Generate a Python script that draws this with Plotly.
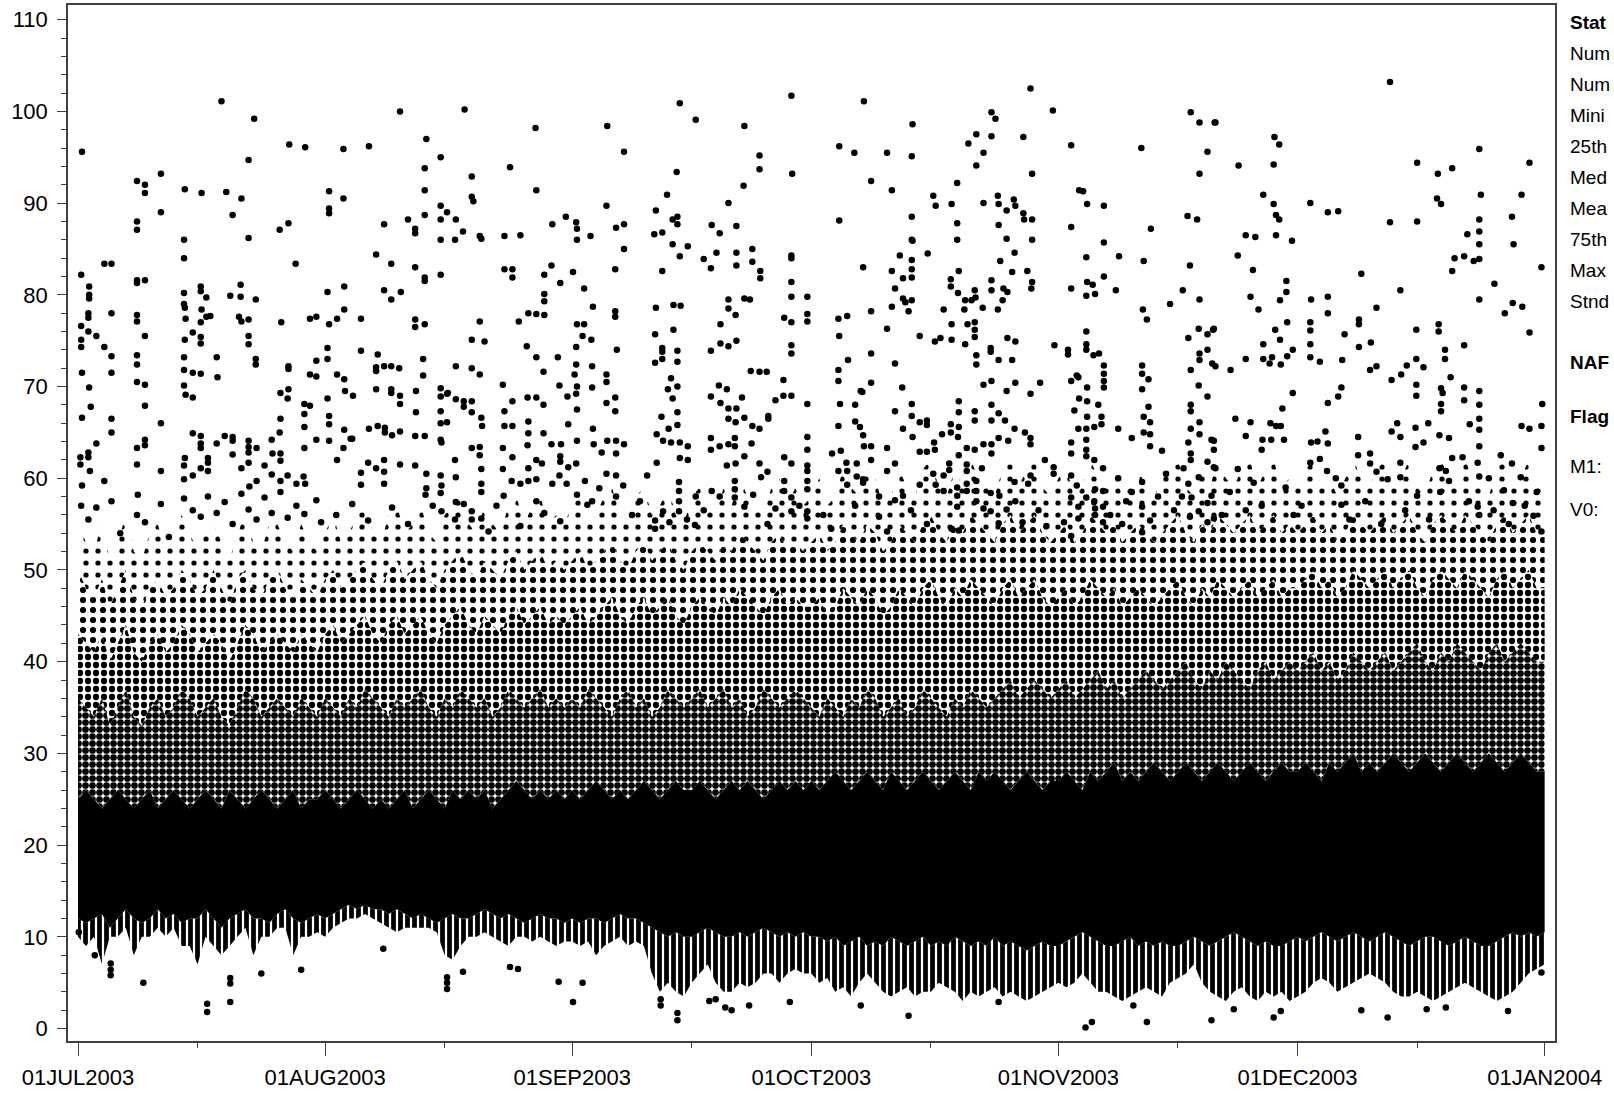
import pandas as pd
import plotly.graph_objects as go

# hourly concentrations, Jul 2003 - Jan 2004; sparse points
# as (day offset from 01JUL2003, value). The dense cloud is kept as daily envelopes.
START = pd.Timestamp("2003-07-01")

tick_dates = ["2003-07-01", "2003-08-01", "2003-09-01", "2003-10-01",
              "2003-11-01", "2003-12-01", "2004-01-01"]
tick_labels = ["01JUL2003", "01AUG2003", "01SEP2003", "01OCT2003",
               "01NOV2003", "01DEC2003", "01JAN2004"]
minor_dates = ["2003-07-16", "2003-08-16", "2003-09-16", "2003-10-16",
               "2003-11-16", "2003-12-16"]

# daily envelopes of the dense part of the cloud (one value per day, 01JUL2003..01JAN2004)
whisk_lo = [10, 9, 10, 7, 10, 10, 11, 8, 10, 10, 11, 10, 11, 9, 9, 7, 10, 9, 8, 9, 10, 11, 8, 10, 10, 11, 11, 8, 10, 10, 10.5,
            10, 11, 11.5, 12, 12, 12.5, 12, 11.5, 11, 10.5, 11, 11, 11, 11, 10.5, 8, 7.5, 9, 10, 10, 10.5, 10, 9.5, 9, 10, 10, 9.5, 10, 9.5, 9, 9.5,
            9.5, 9, 9.5, 8, 9, 9.5, 10, 9, 9.5, 9, 6, 4, 5, 4, 3.5, 5, 6, 7, 5, 4, 4, 5, 4.5, 5, 6, 6, 5, 6, 6.5, 6,
            6, 5, 5.5, 4, 4.5, 3.5, 5, 6, 5, 4, 3.5, 4, 4.5, 3.5, 4, 4, 5, 4.5, 4, 3, 4, 3.5, 4, 4.5, 3.5, 4, 3.5, 3, 3.5, 4, 4.5,
            5, 4.5, 5, 6, 5, 4, 4, 3.5, 3, 3.5, 4, 4.5, 4, 3.5, 5, 5.5, 6, 7, 5, 4, 3.5, 3, 4, 4.5, 3.5, 3, 4, 3.5, 4, 3,
            3.5, 4, 5, 5.5, 5, 4, 4.5, 5, 5.5, 6, 5.5, 5, 4, 3.5, 3.5, 4, 3.5, 3, 3.5, 4, 4.5, 5, 4.5, 4, 3.5, 3, 3.5, 4, 5, 6, 6.5,
            7]
core_lo = [12, 11.5, 12, 12.5, 11, 12, 13, 12, 11.5, 12, 13, 12, 12.5, 11.5, 12, 12, 13, 12, 11, 12, 12.5, 13, 12, 12, 11.5, 12.5, 13, 12, 11.5, 12, 12.5,
           12, 12.5, 13, 13.5, 13, 13.5, 13, 13, 12.5, 13, 12.5, 12, 12.5, 12, 11.5, 12, 12.5, 12, 12, 12.5, 13, 12.5, 12, 12.5, 12, 11.5, 12, 12.5, 12, 12, 11.5,
           12, 11.5, 12, 12, 11.5, 12, 12.5, 12, 12, 11.5, 11, 10.5, 10, 10.5, 10, 10, 10.5, 11, 10.5, 10, 10, 10.5, 10, 10.5, 11, 10.5, 10, 10.5, 10, 10.5,
           10, 10, 9.5, 10, 9, 9.5, 10, 9, 9.5, 9, 10, 9.5, 9, 9.5, 10, 9, 9.5, 9, 10, 9.5, 9, 9.5, 9, 10, 9, 9.5, 9, 8.5, 9, 9.5, 9,
           9, 9.5, 10, 10.5, 10, 9.5, 9, 9, 9.5, 10, 9, 9.5, 9, 9.5, 9, 9, 9.5, 10, 9.5, 9, 9.5, 10, 10.5, 10, 9.5, 9, 9.5, 9, 9, 9.5,
           10, 9.5, 10, 10.5, 10, 9.5, 10, 10.5, 10, 9.5, 10, 10.5, 10, 9.5, 9, 9.5, 10, 10, 9.5, 9, 9.5, 10, 9.5, 9, 9, 9.5, 10, 10.5, 10, 10.5, 10,
           10.5]
core_hi = [25, 26, 25, 24, 25, 26, 25, 24, 25, 26, 24, 25, 26, 25, 24, 25, 26, 25, 24, 26, 25, 24, 25, 26, 25, 24, 25, 26, 24, 25, 25,
           26, 25, 24, 25, 26, 25, 24, 25, 24, 25, 26, 24, 25, 26, 25, 24, 26, 25, 26, 25, 26, 24, 25, 26, 27, 26, 25, 26, 25, 26, 25,
           26, 25, 26, 27, 26, 25, 26, 25, 26, 27, 26, 25, 26, 27, 26, 26, 27, 26, 25, 26, 27, 26, 27, 26, 25, 26, 27, 26, 27, 26,
           27, 26, 27, 28, 27, 26, 27, 28, 27, 26, 28, 27, 26, 27, 28, 27, 26, 27, 28, 27, 26, 28, 27, 28, 27, 26, 27, 28, 27, 26, 27,
           27, 28, 27, 26, 28, 27, 28, 29, 27, 28, 27, 28, 29, 28, 27, 28, 29, 28, 27, 28, 29, 28, 27, 28, 29, 28, 27, 28, 29, 28,
           28, 29, 28, 27, 29, 28, 29, 30, 28, 29, 28, 29, 30, 29, 28, 29, 30, 29, 28, 29, 30, 29, 28, 29, 30, 29, 28, 29, 30, 29, 28,
           28]
dense_hi = [36, 35, 34, 36, 33, 35, 37, 34, 33, 35, 36, 34, 35, 37, 36, 34, 35, 36, 34, 33, 35, 37, 36, 34, 35, 36, 35, 34, 36, 35, 34,
            36, 35, 34, 36, 35, 37, 36, 35, 34, 36, 35, 36, 37, 35, 34, 36, 35, 37, 36, 35, 36, 34, 35, 37, 36, 35, 36, 37, 35, 36, 35,
            36, 35, 37, 36, 35, 34, 36, 37, 35, 36, 34, 35, 37, 36, 35, 36, 37, 35, 36, 37, 35, 36, 34, 35, 37, 36, 35, 36, 37, 36,
            35, 34, 36, 35, 34, 36, 35, 37, 36, 34, 35, 36, 34, 35, 37, 36, 35, 34, 36, 35, 37, 36, 35, 36, 37, 38, 36, 37, 38, 37, 36,
            37, 38, 36, 37, 38, 39, 37, 38, 36, 37, 38, 39, 38, 37, 38, 39, 40, 38, 37, 39, 38, 40, 39, 38, 37, 39, 40, 38, 39, 40,
            39, 40, 41, 39, 40, 38, 39, 41, 40, 39, 40, 41, 39, 40, 41, 42, 40, 39, 41, 40, 42, 41, 40, 39, 41, 42, 40, 41, 42, 41, 40,
            40]
mid_hi = [43, 42, 41, 43, 40, 42, 44, 41, 40, 42, 43, 41, 42, 44, 43, 41, 42, 43, 42, 40, 42, 44, 43, 41, 42, 43, 42, 41, 43, 42, 41,
          43, 44, 42, 43, 44, 45, 43, 42, 44, 45, 43, 44, 45, 43, 42, 44, 45, 46, 44, 43, 45, 44, 43, 45, 46, 44, 45, 46, 44, 45, 44,
          45, 46, 44, 45, 46, 47, 45, 44, 46, 47, 45, 46, 47, 45, 44, 46, 47, 46, 45, 47, 46, 48, 47, 46, 45, 47, 48, 46, 47, 46,
          46, 47, 45, 46, 48, 47, 46, 48, 47, 45, 46, 48, 47, 46, 48, 49, 47, 46, 48, 47, 49, 48, 47, 46, 48, 49, 47, 48, 49, 47, 46,
          47, 48, 46, 47, 49, 48, 47, 48, 46, 47, 48, 47, 46, 47, 48, 49, 47, 46, 48, 47, 49, 48, 47, 48, 49, 47, 48, 49, 47, 48,
          48, 49, 50, 48, 49, 47, 48, 50, 49, 48, 49, 50, 48, 49, 50, 48, 47, 49, 50, 49, 48, 50, 49, 48, 47, 49, 50, 48, 49, 50, 48,
          48]
light_hi = [50, 48, 47, 49, 46, 48, 50, 47, 46, 48, 49, 47, 48, 50, 49, 47, 48, 50, 48, 46, 49, 50, 48, 47, 49, 50, 48, 47, 49, 48, 47,
            49, 50, 48, 49, 50, 51, 49, 48, 50, 51, 49, 50, 51, 49, 48, 50, 51, 52, 50, 49, 51, 50, 49, 51, 52, 50, 51, 52, 50, 51, 50,
            51, 52, 50, 51, 52, 53, 51, 50, 52, 53, 51, 52, 53, 51, 50, 52, 53, 52, 51, 53, 52, 54, 53, 52, 51, 53, 54, 52, 53, 52,
            53, 54, 52, 53, 55, 54, 53, 55, 54, 52, 53, 55, 54, 53, 55, 56, 54, 53, 55, 54, 56, 55, 54, 53, 55, 56, 54, 55, 56, 54, 53,
            54, 55, 53, 54, 56, 55, 54, 55, 53, 54, 55, 54, 53, 54, 55, 56, 54, 53, 55, 54, 56, 55, 54, 55, 56, 54, 55, 56, 54, 55,
            54, 55, 56, 54, 55, 53, 54, 56, 55, 54, 55, 56, 54, 55, 56, 54, 53, 55, 56, 55, 54, 56, 55, 54, 53, 55, 56, 54, 55, 56, 54,
            54]
faint_hi = [55, 53, 52, 55, 51, 53, 56, 52, 51, 54, 55, 52, 53, 56, 54, 52, 54, 55, 53, 51, 54, 56, 53, 52, 55, 55, 53, 52, 55, 53, 52,
            54, 56, 53, 54, 56, 57, 54, 53, 56, 57, 54, 55, 57, 54, 53, 56, 57, 58, 55, 54, 57, 55, 54, 57, 58, 55, 57, 58, 55, 56, 55,
            57, 58, 55, 56, 58, 59, 56, 55, 58, 59, 56, 57, 59, 56, 55, 58, 59, 57, 56, 59, 57, 60, 58, 57, 56, 59, 60, 57, 59, 57,
            58, 60, 57, 58, 61, 59, 58, 61, 60, 57, 58, 61, 59, 58, 61, 62, 59, 58, 61, 59, 62, 60, 59, 58, 61, 62, 59, 61, 62, 59, 58,
            60, 61, 58, 59, 62, 60, 59, 61, 58, 59, 61, 59, 58, 60, 61, 62, 59, 58, 61, 59, 62, 60, 59, 61, 62, 59, 61, 62, 59, 60,
            59, 61, 62, 59, 60, 58, 60, 62, 60, 59, 61, 62, 59, 60, 62, 59, 58, 61, 62, 60, 59, 62, 60, 59, 58, 61, 62, 59, 60, 62, 59,
            59]

# sparse points above the cloud
jul_pts = [(0.5, 95.6), (18.0, 101.1), (22.1, 99.2), (26.5, 96.4), (28.5, 96.1), (21.4, 94.7), (10.4, 93.2), (7.4, 92.4),
           (8.4, 92.0), (8.4, 91.1), (13.4, 91.5), (15.5, 91.1), (18.6, 91.2), (20.5, 90.5), (10.4, 89.0), (19.4, 88.7),
           (7.4, 88.0), (7.4, 87.1), (25.3, 87.1), (26.4, 87.8), (13.3, 86.0), (13.3, 84.0), (21.4, 86.2), (3.3, 83.4),
           (4.2, 83.4), (27.3, 83.4), (0.4, 82.2), (7.4, 81.6), (7.4, 81.3), (8.4, 81.6), (1.4, 80.9), (1.4, 80.0),
           (1.4, 79.6), (13.3, 80.2), (13.3, 79.0), (15.4, 80.9), (15.4, 80.4), (16.1, 79.7), (13.5, 77.4), (13.4, 78.6),
           (20.4, 81.1), (20.4, 79.8), (19.1, 79.9), (22.3, 79.5), (4.2, 78.0), (1.3, 78.0), (1.3, 77.5), (7.4, 77.8),
           (7.4, 77.1), (15.5, 78.4), (16.1, 77.6), (16.6, 77.7), (15.4, 77.0), (20.2, 77.6), (20.5, 77.1), (21.4, 77.3),
           (25.5, 77.0), (29.1, 77.4), (29.9, 77.6), (0.4, 76.6), (0.4, 75.1), (0.4, 74.3), (1.3, 76.0), (2.3, 75.5),
           (3.3, 74.3), (4.2, 73.3), (8.4, 75.5), (13.4, 75.1), (14.4, 75.9), (15.4, 75.4), (15.4, 74.7), (21.4, 75.5),
           (21.4, 74.6), (7.4, 73.4), (7.4, 72.4), (8.4, 70.2), (13.3, 73.2), (13.3, 71.8), (14.4, 71.5), (15.4, 71.4),
           (17.4, 73.2), (17.5, 71.0), (22.3, 73.0), (22.3, 72.4), (26.4, 71.9), (26.4, 72.2), (29.9, 71.1), (29.1, 71.3),
           (29.9, 72.8), (25.4, 69.3), (26.4, 69.7), (26.3, 68.7), (28.4, 68.1), (29.1, 67.9), (28.4, 67.0), (28.4, 65.6),
           (0.5, 71.5), (1.4, 69.9), (1.6, 67.8), (0.5, 66.6), (4.2, 71.5), (4.2, 66.5), (4.2, 65.0), (7.4, 70.5),
           (8.4, 67.9), (13.3, 70.1), (13.5, 69.1), (14.4, 68.8), (2.3, 63.8), (1.3, 62.8), (1.3, 62.3), (0.3, 62.3),
           (0.3, 61.5), (1.5, 60.8), (3.3, 59.7), (0.5, 59.2), (8.4, 64.2), (7.4, 63.3), (8.4, 63.6), (7.4, 61.5),
           (7.5, 58.2), (10.4, 66.0), (10.4, 60.8), (13.4, 62.2), (13.3, 61.4), (13.3, 59.9), (14.4, 64.9), (15.4, 64.6),
           (15.4, 63.8), (15.4, 63.3), (15.4, 61.1), (14.4, 60.3), (16.3, 62.2), (16.3, 61.7), (16.3, 60.8), (17.4, 63.8),
           (18.4, 64.6), (19.4, 64.5), (19.4, 64.1), (19.4, 62.6), (20.5, 61.1), (21.4, 64.1), (21.4, 63.4), (21.4, 62.8),
           (21.4, 61.7), (22.4, 63.3), (24.3, 64.2), (25.3, 65.0), (25.4, 66.5), (24.4, 62.7), (25.4, 62.7), (25.4, 61.9),
           (23.4, 61.4), (24.3, 60.4), (25.4, 59.7), (22.4, 59.7), (21.5, 59.1), (28.4, 63.3), (28.3, 60.2), (27.4, 59.4),
           (26.3, 60.3), (28.5, 59.4), (29.9, 64.2), (0.4, 57.0), (1.3, 55.5), (2.3, 56.8), (4.2, 57.5), (5.3, 54.0),
           (7.4, 56.0), (8.4, 55.2), (10.4, 57.2), (11.4, 53.6), (13.3, 57.8), (14.4, 56.5), (15.4, 55.8), (16.3, 58.0),
           (17.4, 56.2), (18.4, 57.4), (19.4, 55.0), (20.5, 58.3), (21.4, 56.6), (22.4, 55.5), (23.4, 57.9), (24.3, 56.2),
           (25.4, 58.5), (26.3, 55.7), (27.4, 57.0), (28.4, 56.1), (29.9, 57.6), (30.5, 55.2)]
aug_pts = [(31.5, 91.3), (33.3, 90.5), (31.5, 89.4), (31.5, 88.9), (43.5, 93.8), (43.5, 91.4), (43.5, 88.7), (45.5, 89.7),
           (45.5, 88.2), (45.5, 86.0), (46.3, 89.0), (41.4, 88.2), (42.3, 87.2), (42.3, 86.7), (40.4, 100.0), (43.7, 97.0),
           (45.5, 95.0), (33.3, 95.9), (36.5, 96.2), (38.4, 87.7), (37.4, 84.4), (39.3, 83.4), (42.3, 83.0), (43.5, 81.9),
           (43.5, 81.5), (45.5, 82.2), (31.3, 80.3), (33.4, 80.9), (40.5, 80.3), (38.4, 80.5), (39.3, 79.5), (32.5, 77.4),
           (33.4, 78.4), (31.5, 76.8), (35.5, 77.4), (42.3, 77.3), (42.3, 76.5), (43.5, 76.8), (31.3, 74.2), (31.3, 73.0),
           (35.5, 73.9), (37.6, 73.5), (43.3, 73.0), (43.3, 71.2), (32.5, 71.3), (33.4, 70.8), (37.4, 72.1), (37.4, 71.7),
           (38.4, 72.2), (39.3, 72.2), (40.3, 72.0), (45.5, 69.8), (45.5, 68.9), (46.3, 69.2), (31.3, 68.7), (31.5, 66.8),
           (31.5, 65.9), (33.5, 69.5), (34.5, 69.0), (33.4, 65.3), (34.4, 64.3), (37.4, 69.7), (39.3, 69.7), (39.3, 69.3),
           (40.4, 69.0), (40.4, 68.1), (42.4, 69.5), (42.4, 67.2), (43.5, 64.6), (45.5, 67.3), (45.5, 66.0), (45.5, 64.2),
           (46.3, 66.1), (31.5, 64.1), (32.5, 62.0), (33.3, 63.3), (34.2, 64.3), (36.5, 65.4), (37.6, 65.7), (38.5, 65.5),
           (38.5, 65.0), (39.4, 64.7), (40.4, 65.1), (42.3, 64.6), (36.4, 61.7), (37.4, 61.1), (38.4, 62.0), (38.4, 60.7),
           (38.4, 59.4), (35.5, 60.6), (35.5, 59.3), (40.4, 61.5), (42.3, 61.4), (43.7, 60.5), (45.5, 60.3), (45.5, 58.4),
           (43.7, 58.9), (43.6, 58.2), (48.5, 100.2), (57.4, 98.2), (49.4, 92.9), (49.4, 90.7), (49.6, 90.2), (54.2, 93.9),
           (57.5, 91.4), (47.4, 88.2), (48.3, 86.9), (47.3, 86.0), (50.4, 86.4), (50.6, 86.1), (53.5, 86.4), (55.5, 86.5),
           (59.5, 87.7), (61.2, 88.5), (53.5, 82.8), (54.5, 82.8), (54.5, 81.9), (59.4, 83.2), (58.5, 82.2), (60.5, 81.3),
           (58.5, 80.1), (58.5, 79.3), (58.5, 77.8), (57.5, 77.9), (56.5, 78.0), (50.4, 77.1), (55.3, 77.1), (49.4, 75.1),
           (51.0, 74.9), (47.4, 72.2), (49.4, 72.0), (50.4, 71.3), (56.3, 74.4), (57.5, 73.2), (60.2, 73.2), (58.4, 71.6),
           (60.4, 70.1), (61.4, 68.9), (46.4, 69.3), (47.4, 68.6), (48.4, 68.4), (48.4, 67.8), (49.4, 68.4), (49.4, 67.2),
           (50.6, 66.6), (50.7, 65.7), (45.6, 63.9), (53.3, 70.2), (54.5, 68.4), (53.5, 67.3), (53.5, 65.7), (54.5, 65.7),
           (56.5, 66.2), (56.5, 64.9), (56.4, 63.6), (57.5, 68.8), (56.4, 68.8), (58.4, 68.0), (58.4, 64.9), (59.4, 63.7),
           (60.6, 63.7), (61.5, 65.9), (47.3, 62.0), (47.4, 60.1), (50.6, 61.0), (50.6, 59.4), (50.6, 58.5), (49.4, 63.3),
           (50.4, 63.4), (50.4, 62.5), (53.3, 63.3), (53.3, 61.0), (54.5, 62.3), (56.5, 61.1), (57.5, 62.0), (58.2, 61.6),
           (60.5, 62.4), (60.5, 61.8), (61.5, 61.2), (45.6, 59.2), (47.4, 57.4), (48.4, 57.2), (49.4, 56.4), (49.4, 55.5),
           (50.6, 55.6), (45.6, 56.4), (47.3, 55.5), (53.4, 58.1), (54.4, 59.7), (55.5, 59.4), (56.5, 59.7), (57.5, 59.9),
           (57.5, 57.5), (59.5, 59.4), (60.4, 60.3), (61.3, 59.4), (32.4, 56.0), (34.4, 57.2), (36.4, 55.4), (39.4, 56.8),
           (41.4, 55.0), (44.5, 57.0), (51.5, 54.2), (52.5, 57.0), (55.5, 54.8), (58.5, 56.2), (60.5, 55.3)]
sep_pts = [(66.4, 98.4), (68.5, 95.6), (75.5, 100.9), (77.5, 99.1), (83.6, 98.4), (89.5, 101.7), (89.6, 93.2), (85.5, 95.2),
           (85.5, 93.7), (83.5, 91.9), (81.6, 90.0), (66.3, 89.7), (75.1, 93.4), (73.9, 90.9), (72.5, 89.2), (62.5, 87.9),
           (62.6, 87.2), (62.6, 86.0), (64.3, 86.4), (67.5, 87.3), (68.5, 87.7), (68.5, 85.0), (72.3, 86.6), (73.3, 86.8),
           (74.6, 88.2), (75.2, 88.5), (75.2, 87.7), (74.6, 85.5), (75.5, 84.2), (76.5, 85.3), (79.5, 87.6), (80.5, 86.7),
           (82.6, 87.5), (80.1, 84.6), (82.6, 84.6), (84.6, 85.0), (84.6, 83.6), (85.6, 82.6), (85.6, 81.8), (82.6, 83.2),
           (78.5, 83.9), (79.4, 82.9), (89.5, 84.3), (89.5, 84.0), (89.5, 81.4), (89.5, 79.8), (91.5, 79.8), (91.5, 77.9),
           (91.5, 77.1), (88.6, 77.5), (89.5, 77.0), (89.5, 74.5), (89.5, 73.6), (62.1, 82.5), (63.5, 80.7), (67.4, 82.8),
           (73.3, 82.6), (64.6, 78.7), (67.4, 78.2), (67.4, 77.6), (72.5, 78.6), (74.7, 78.9), (75.6, 78.8), (81.6, 79.5),
           (81.6, 78.5), (82.5, 77.8), (83.6, 79.6), (84.3, 79.5), (62.6, 76.8), (63.5, 76.8), (63.3, 75.5), (64.4, 75.1),
           (62.5, 74.3), (72.4, 75.7), (73.3, 74.2), (73.3, 73.8), (73.3, 73.0), (72.4, 72.6), (75.2, 73.9), (75.2, 72.7),
           (74.7, 76.2), (67.6, 74.0), (79.4, 73.9), (80.6, 74.7), (81.6, 74.4), (82.6, 75.0), (80.6, 76.8), (84.4, 71.7),
           (85.5, 71.6), (86.4, 71.6), (88.5, 70.7), (88.5, 69.0), (89.5, 69.0), (87.5, 68.5), (91.5, 68.1), (62.5, 72.4),
           (64.5, 72.2), (62.3, 71.3), (62.6, 70.0), (62.5, 69.2), (64.5, 69.9), (62.6, 67.5), (66.3, 71.3), (66.3, 70.5),
           (66.3, 68.2), (67.4, 68.8), (67.4, 67.3), (74.4, 70.9), (74.0, 69.7), (75.2, 70.0), (74.6, 68.7), (73.2, 66.7),
           (74.1, 65.4), (75.2, 65.8), (75.2, 67.2), (79.4, 68.9), (80.4, 70.1), (81.4, 69.7), (80.6, 68.2), (81.6, 67.6),
           (82.6, 67.6), (81.6, 66.5), (82.5, 66.1), (83.6, 66.6), (83.3, 68.8), (84.6, 65.7), (85.5, 65.4), (86.6, 66.8),
           (86.6, 66.5), (62.6, 64.1), (64.6, 65.4), (64.7, 63.7), (65.7, 62.8), (66.4, 64.1), (67.5, 64.1), (68.5, 63.7),
           (67.5, 62.7), (62.5, 61.6), (71.4, 60.3), (72.6, 61.7), (73.4, 64.1), (74.4, 63.9), (75.5, 63.9), (76.5, 63.5),
           (76.5, 62.0), (75.5, 62.2), (72.6, 64.8), (79.4, 64.4), (79.4, 63.1), (80.5, 63.5), (81.6, 63.7), (82.4, 64.4),
           (82.4, 63.5), (83.6, 62.4), (82.5, 61.6), (81.4, 61.4), (84.5, 63.8), (85.5, 61.6), (86.5, 60.7), (88.6, 62.3),
           (89.5, 61.6), (91.5, 64.5), (91.5, 63.1), (91.5, 61.4), (91.5, 60.8), (91.5, 59.7), (91.5, 58.8), (62.6, 58.2),
           (63.6, 59.7), (63.9, 57.1), (64.5, 57.5), (65.4, 58.9), (66.3, 60.5), (67.5, 60.3), (68.4, 59.2), (67.5, 58.0),
           (75.4, 59.6), (75.4, 58.6), (75.4, 57.5), (75.4, 56.4), (73.4, 56.4), (72.4, 55.4), (72.4, 54.5), (74.2, 55.2),
           (76.4, 55.5), (77.4, 54.9), (79.5, 58.6), (80.5, 58.0), (82.4, 59.7), (82.4, 58.8), (82.4, 57.9), (83.6, 56.9),
           (84.7, 58.2), (85.7, 60.1), (88.6, 59.7), (88.6, 58.6), (89.5, 57.9), (87.5, 56.7), (89.5, 56.4), (91.5, 56.4),
           (91.5, 55.6), (69.5, 56.0), (70.5, 57.5), (77.5, 58.0), (78.5, 56.5), (86.5, 55.0), (90.5, 57.0)]
oct_pts = [(98.6, 101.1), (119.5, 102.5), (122.3, 100.1), (104.7, 98.6), (114.6, 99.9), (115.1, 99.2), (114.6, 97.3),
           (112.7, 97.5), (111.7, 96.5), (113.6, 95.5), (112.7, 94.1), (118.6, 97.2), (95.5, 96.2), (97.4, 95.5), (101.5, 95.5),
           (104.6, 95.1), (99.5, 92.4), (102.1, 91.4), (110.3, 92.2), (119.7, 93.2), (107.3, 90.8), (107.6, 89.7), (109.6, 89.9),
           (113.6, 90.0), (115.4, 90.8), (115.5, 89.9), (116.5, 89.2), (117.4, 90.4), (117.6, 89.7), (118.6, 88.9), (118.7, 88.2),
           (119.7, 88.2), (95.5, 88.1), (104.6, 88.5), (104.6, 86.0), (104.7, 85.9), (110.3, 87.8), (110.3, 86.0), (115.5, 87.6),
           (116.5, 86.1), (119.7, 86.0), (117.5, 84.6), (115.7, 83.7), (103.1, 84.3), (106.6, 84.5), (104.6, 83.8), (104.6, 82.8),
           (104.6, 81.9), (98.5, 83.0), (102.1, 82.6), (103.5, 81.8), (102.5, 80.7), (103.5, 79.6), (103.8, 79.2), (102.1, 78.7),
           (104.2, 78.2), (104.6, 79.4), (110.5, 82.6), (109.5, 81.7), (109.5, 80.9), (110.4, 80.2), (111.3, 79.4), (112.1, 79.4),
           (112.6, 79.7), (112.5, 80.5), (108.6, 78.4), (111.2, 78.4), (113.5, 78.6), (114.6, 81.6), (114.6, 80.5), (116.1, 80.7),
           (116.6, 80.3), (116.0, 79.4), (115.4, 78.4), (117.2, 82.5), (119.1, 82.6), (119.7, 81.4), (119.6, 80.7),
           (95.4, 77.4), (96.5, 77.7), (95.5, 75.5), (99.5, 78.2), (101.5, 76.3), (99.5, 73.6), (102.5, 72.5), (103.4, 69.9),
           (98.2, 69.5), (105.6, 75.5), (107.5, 74.9), (108.2, 75.3), (109.6, 75.1), (109.6, 76.8), (111.6, 76.8), (111.3, 74.6),
           (112.5, 77.0), (112.5, 76.2), (112.5, 75.4), (112.7, 73.4), (112.7, 72.4), (114.5, 74.2), (114.5, 73.8), (116.6, 75.3),
           (117.6, 74.9), (115.5, 72.9), (117.2, 72.9), (113.6, 70.2), (114.6, 70.6), (117.6, 70.4), (116.5, 69.5), (120.7, 70.4),
           (119.5, 69.2), (122.5, 74.5), (95.4, 71.8), (95.4, 70.6), (96.6, 72.9), (99.5, 70.4), (98.4, 69.4), (97.5, 68.0),
           (95.6, 68.1), (95.4, 65.7), (98.1, 65.6), (98.5, 64.7), (98.6, 63.5), (99.5, 63.5), (97.5, 66.2), (94.6, 62.7),
           (95.7, 63.0), (96.4, 61.7), (95.4, 60.8), (96.5, 60.8), (97.7, 61.6), (97.7, 60.2), (98.5, 59.9), (98.5, 59.5),
           (99.5, 62.0), (96.5, 59.3), (101.5, 63.3), (102.5, 67.3), (103.5, 65.4), (102.5, 61.6), (101.5, 60.8), (102.5, 57.6),
           (103.5, 58.1), (104.6, 68.1), (104.6, 66.8), (104.7, 64.5), (105.6, 66.1), (106.5, 66.3), (106.5, 65.8), (105.6, 62.9),
           (106.5, 62.9), (107.5, 63.1), (108.4, 64.8), (107.4, 63.9), (105.6, 59.3), (107.6, 59.3), (108.6, 58.6), (108.6, 60.3),
           (107.3, 60.5), (109.5, 65.9), (109.5, 65.0), (110.5, 65.6), (110.5, 67.2), (110.5, 68.4), (110.4, 64.5), (111.5, 63.3),
           (110.5, 62.5), (109.3, 61.6), (109.3, 60.9), (111.5, 61.5), (111.5, 60.8), (112.5, 67.3), (112.5, 66.3), (112.5, 63.1),
           (113.6, 63.7), (113.4, 61.1), (114.6, 68.0), (114.6, 66.3), (115.5, 67.1), (116.3, 66.3), (114.6, 63.7), (114.6, 62.7),
           (115.5, 64.4), (116.7, 64.1), (117.5, 65.4), (118.8, 65.0), (119.5, 64.4), (119.5, 63.7), (119.5, 60.3), (119.2, 59.4),
           (110.3, 59.0), (110.3, 58.1), (110.3, 56.9), (111.5, 59.4), (111.5, 58.6), (112.7, 59.7), (112.7, 58.6), (112.7, 57.5),
           (113.6, 56.7), (114.5, 58.4), (115.6, 58.1), (116.5, 56.6), (117.6, 57.5), (118.5, 55.2), (115.5, 55.1), (114.5, 56.4),
           (117.5, 59.6), (109.6, 54.5), (110.5, 54.3), (121.3, 62.0), (122.4, 61.2), (122.4, 60.5), (93.5, 56.0),
           (94.5, 54.5), (97.5, 57.0), (100.5, 55.8), (101.5, 54.2), (104.5, 56.5), (106.5, 55.0), (120.5, 56.5), (121.5, 54.8),
           (100.5, 58.0)]
nov_pts = [(124.6, 96.3), (133.4, 96.0), (139.6, 99.9), (140.7, 98.8), (141.7, 95.6), (140.7, 93.2), (142.6, 98.8),
           (125.6, 91.4), (126.1, 91.3), (126.6, 89.9), (128.7, 89.7), (124.6, 87.4), (134.6, 87.2), (139.2, 88.6), (140.4, 88.2),
           (128.7, 85.7), (126.5, 84.1), (130.6, 84.2), (133.7, 83.7), (139.5, 83.2), (124.6, 80.7), (126.6, 81.4), (127.3, 81.1),
           (126.5, 79.9), (127.6, 80.1), (130.2, 80.5), (128.7, 82.0), (137.0, 79.0), (138.6, 80.5), (140.7, 79.5), (133.6, 78.4),
           (134.1, 77.3), (124.6, 60.3), (125.3, 59.2), (124.6, 57.9), (125.5, 56.9), (126.5, 57.9), (127.6, 58.8), (127.5, 57.5),
           (127.6, 56.7), (127.6, 56.0), (128.6, 61.1), (128.6, 58.6), (128.6, 56.9), (128.6, 55.2), (125.5, 55.6), (123.7, 55.2),
           (124.6, 53.7), (124.6, 63.9), (124.6, 62.7), (125.5, 65.4), (126.5, 65.4), (127.5, 65.6), (126.5, 64.2), (126.5, 63.1),
           (126.5, 62.4), (127.5, 62.0), (128.4, 66.7), (128.4, 65.9), (125.0, 67.4), (124.6, 70.6), (125.5, 71.0), (126.6, 69.9),
           (126.6, 68.4), (128.0, 68.0), (126.6, 66.7), (128.7, 72.3), (128.7, 71.4), (128.7, 70.6), (128.7, 69.9), (127.4, 73.4),
           (128.1, 73.6), (126.5, 74.0), (126.5, 74.6), (126.5, 76.0), (124.2, 74.0), (124.2, 73.5), (125.3, 71.2), (125.6, 68.7),
           (130.5, 65.4), (132.2, 64.4), (133.5, 72.3), (133.5, 71.4), (133.5, 69.7), (134.3, 70.8), (134.3, 67.8), (133.7, 66.7),
           (134.5, 66.1), (133.7, 65.0), (134.5, 64.8), (134.5, 63.5), (133.5, 59.6), (133.5, 56.9), (134.5, 55.4), (133.5, 54.1),
           (139.6, 71.8), (140.7, 72.9), (140.7, 73.6), (141.7, 74.0), (140.6, 70.1), (141.7, 68.9), (139.6, 68.0), (139.6, 67.3),
           (139.6, 65.4), (140.7, 66.1), (140.7, 64.8), (139.3, 63.9), (139.6, 62.7), (139.6, 62.0), (141.7, 61.8), (138.7, 61.1),
           (139.3, 59.4), (140.6, 60.1), (139.7, 57.9), (141.7, 57.3), (140.6, 56.4), (139.5, 55.8), (141.7, 55.2), (142.5, 55.6),
           (142.5, 61.2), (142.5, 64.1), (142.5, 76.3), (141.7, 75.7), (140.6, 76.3), (139.3, 75.3), (142.3, 72.5),
           (142.7, 98.8), (150.1, 97.2), (150.7, 96.4), (150.0, 94.2), (145.6, 94.1), (148.7, 90.9), (150.0, 89.9), (150.3, 88.7),
           (150.7, 88.2), (146.5, 86.5), (147.7, 86.3), (150.3, 86.5), (152.3, 85.9), (145.5, 84.3), (147.4, 82.7), (151.6, 81.5),
           (151.6, 80.3), (147.1, 79.8), (148.1, 78.4), (150.8, 79.4), (151.7, 77.0), (150.2, 76.2), (150.8, 75.1), (142.4, 76.2),
           (142.7, 72.2), (144.6, 71.8), (146.5, 73.0), (148.7, 74.6), (148.7, 73.0), (149.5, 72.5), (149.8, 73.2), (150.9, 72.4),
           (151.7, 73.3), (152.4, 74.0), (152.4, 69.3), (151.1, 67.6), (145.2, 66.5), (147.1, 66.1), (146.5, 64.6), (148.6, 64.2),
           (149.7, 64.2), (151.3, 64.2), (149.6, 66.0), (150.3, 65.7), (150.9, 65.7), (148.5, 63.1), (142.2, 64.2), (142.5, 63.1),
           (142.7, 61.1), (142.2, 58.1), (130.5, 60.0), (131.5, 57.5), (132.2, 58.5), (135.5, 58.0), (136.5, 60.5), (137.5, 56.5),
           (138.5, 58.0), (136.0, 63.0), (144.5, 58.5), (145.5, 61.0), (146.5, 56.5), (147.5, 59.5), (148.5, 57.0), (151.5, 59.0),
           (152.5, 56.0), (143.5, 56.0), (131.0, 55.0), (129.5, 56.0)]
dec_pts = [(164.6, 103.2), (175.8, 95.9), (168.0, 94.4), (172.4, 93.8), (170.6, 93.2), (182.1, 94.4), (154.6, 90.0),
           (156.8, 89.0), (158.1, 89.1), (170.5, 90.5), (171.0, 89.9), (176.0, 90.9), (181.1, 90.9), (175.8, 88.2), (175.8, 86.9),
           (175.8, 85.5), (179.9, 88.5), (180.1, 85.5), (164.6, 87.9), (168.0, 88.0), (174.3, 86.6), (172.7, 84.0), (173.9, 84.2),
           (175.1, 83.7), (175.8, 83.9), (172.4, 82.6), (183.6, 83.0), (161.0, 82.3), (165.9, 80.5), (162.9, 78.6), (177.7, 81.2),
           (175.8, 79.5), (179.0, 78.0), (180.0, 79.1), (181.2, 78.7), (182.1, 75.9), (154.7, 79.5), (156.8, 79.8), (156.8, 78.0),
           (154.6, 77.0), (154.6, 76.1), (154.6, 74.6), (160.7, 77.3), (160.7, 76.8), (158.9, 75.7), (160.7, 74.3), (162.2, 74.8),
           (167.9, 76.2), (170.7, 76.8), (170.7, 76.0), (171.5, 74.0), (171.5, 73.0), (173.9, 74.5), (154.6, 73.2), (155.8, 72.7),
           (158.6, 72.9), (162.1, 71.8), (162.9, 72.2), (164.8, 70.7), (166.0, 71.3), (166.7, 72.3), (167.9, 73.0), (168.8, 72.1),
           (172.2, 71.0), (167.9, 70.2), (167.9, 69.0), (171.0, 69.8), (171.2, 69.3), (171.0, 68.1), (171.0, 67.3), (173.9, 69.9),
           (173.9, 68.5), (175.8, 69.5), (175.8, 68.0), (175.8, 66.5), (175.8, 65.3), (174.6, 65.9), (183.7, 68.1), (181.1, 65.7),
           (182.1, 65.4), (183.6, 65.7), (183.6, 63.3), (179.9, 61.6), (181.0, 60.1), (178.9, 58.7), (180.0, 57.3), (177.6, 56.5),
           (182.6, 55.9), (183.6, 54.2), (156.8, 68.2), (158.1, 68.9), (158.5, 69.9), (154.7, 63.9), (155.5, 64.0), (156.8, 63.8),
           (156.5, 65.1), (154.6, 61.7), (155.8, 62.1), (156.7, 60.8), (157.8, 60.0), (158.5, 59.2), (158.5, 57.1), (160.6, 64.5),
           (160.6, 62.5), (162.1, 62.7), (162.1, 61.6), (162.9, 60.7), (164.3, 59.9), (165.9, 61.7), (165.9, 60.1), (165.5, 66.0),
           (164.8, 65.1), (165.9, 64.5), (167.8, 65.5), (168.8, 63.9), (169.4, 66.0), (167.8, 63.4), (168.0, 58.1), (170.8, 64.7),
           (172.0, 64.4), (172.4, 62.2), (173.7, 62.3), (175.8, 63.5), (175.6, 61.7), (175.8, 60.2), (170.8, 61.1), (171.6, 60.8),
           (172.0, 59.7), (170.9, 58.5), (175.6, 56.9), (175.8, 56.0), (153.5, 57.0), (159.5, 55.5), (161.5, 57.5), (163.5, 55.0),
           (166.5, 56.5), (169.5, 55.5), (174.5, 57.5), (177.0, 60.0), (178.5, 62.5), (179.5, 55.0), (181.5, 57.0), (183.0, 58.5)]
# isolated low values below the cloud
low_pts = [(0.1, 10.5), (2.1, 8.0), (4.1, 5.8), (4.1, 6.4), (4.1, 7.1), (8.2, 5.0), (16.2, 2.7), (16.2, 1.8), (19.1, 2.9),
           (19.1, 4.9), (19.1, 5.5), (23.0, 6.0), (28.0, 6.4), (38.3, 8.7), (46.3, 4.3), (46.3, 5.0), (46.3, 5.6), (48.3, 6.2),
           (54.2, 6.7), (55.2, 6.5), (60.3, 5.1), (62.1, 2.9), (63.3, 5.0), (73.1, 3.2), (73.1, 2.5), (75.2, 1.7), (75.2, 0.9),
           (79.2, 3.0), (80.0, 3.2), (81.2, 2.3), (82.0, 2.0), (84.2, 2.5), (89.3, 2.9), (98.2, 2.5), (104.2, 1.4), (115.5, 2.9),
           (126.4, 0.1), (127.2, 0.7), (132.4, 2.5), (134.1, 0.7), (142.2, 0.9), (145.0, 2.1), (150.0, 1.2), (150.9, 1.9),
           (161.0, 2.0), (164.3, 1.2), (169.2, 2.1), (171.6, 2.3), (179.4, 1.9), (183.6, 6.1)]

# side panel: only the part visible before the page edge
stat_lines = ["<b>Stat</b>", "Num", "Num", "Mini", "25th", "Med", "Mea", "75th", "Max", "Stnd"]
flag_lines = ["<b>NAF</b>", "<b>Flag</b>", "M1:", "V0:"]


def to_dates(days):
    return START + pd.to_timedelta(pd.Series(days, dtype=float), unit="D")


day_idx = list(range(len(core_hi)))
band_x = list(to_dates(day_idx)) + list(to_dates(day_idx[::-1]))


def band(lower, upper, pattern=None):
    ys = list(upper) + list(lower[::-1])
    kw = dict(x=band_x, y=ys, mode="lines", fill="toself", line=dict(width=0),
              hoverinfo="skip", showlegend=False)
    if pattern is None:
        kw["fillcolor"] = "black"
    else:
        shape, size, solid = pattern
        kw["fillcolor"] = "white"
        kw["fillpattern"] = dict(shape=shape, size=size, solidity=solid,
                                 fgcolor="black", bgcolor="rgba(0,0,0,0)", fgopacity=1)
    return go.Scatter(**kw)


fig = go.Figure()
fig.add_trace(band(light_hi, faint_hi, (".", 12, 0.15)))
fig.add_trace(band(mid_hi, light_hi, (".", 10, 0.3)))
fig.add_trace(band(dense_hi, mid_hi, (".", 8, 0.48)))
fig.add_trace(band(core_hi, dense_hi, (".", 7, 0.72)))
fig.add_trace(band(whisk_lo, core_lo, ("|", 7, 0.68)))
fig.add_trace(band(core_lo, core_hi))

all_pts = jul_pts + aug_pts + sep_pts + oct_pts + nov_pts + dec_pts + low_pts
fig.add_trace(go.Scatter(
    x=to_dates([p[0] for p in all_pts]), y=[p[1] for p in all_pts],
    mode="markers", marker=dict(color="black", size=6.5, line=dict(width=0)),
    showlegend=False, hoverinfo="skip"))

FONT = "Liberation Sans, Arial, sans-serif"
axis_col = "#404040"

fig.update_xaxes(
    type="date",
    range=[START - pd.Timedelta(days=1.255), START + pd.Timedelta(days=185.3)],
    tickmode="array", tickvals=tick_dates, ticktext=tick_labels,
    ticks="outside", ticklen=13, tickwidth=1.3, tickcolor=axis_col,
    minor=dict(tickmode="array", tickvals=minor_dates, ticks="outside",
               ticklen=5, tickwidth=1.3, tickcolor=axis_col, showgrid=False),
    showline=True, linecolor=axis_col, linewidth=1.5, mirror=True,
    showgrid=False, zeroline=False, ticklabelstandoff=3,
    tickfont=dict(family=FONT, size=22, color="black"))
fig.update_yaxes(
    range=[-1.36, 111.6], tickmode="linear", tick0=0, dtick=10,
    ticks="outside", ticklen=9, tickwidth=1.3, tickcolor=axis_col,
    minor=dict(dtick=2, tick0=0, ticks="outside", ticklen=5, tickwidth=1.3,
               tickcolor=axis_col, showgrid=False),
    showline=True, linecolor=axis_col, linewidth=1.5, mirror=True,
    showgrid=False, zeroline=False, ticklabelstandoff=5,
    tickfont=dict(family=FONT, size=22, color="black"))

top_px, bot_px = 5, 1041
def ypaper(px):
    return (bot_px - px) / (bot_px - top_px)

for i, txt in enumerate(stat_lines):
    fig.add_annotation(xref="paper", yref="paper", x=1, xshift=13, xanchor="left",
                       y=ypaper(22 + 31 * i), yanchor="middle", text=txt, showarrow=False,
                       font=dict(family=FONT, size=19, color="black"))
for txt, ypx in zip(flag_lines, [362, 416, 466, 510]):
    fig.add_annotation(xref="paper", yref="paper", x=1, xshift=13, xanchor="left",
                       y=ypaper(ypx), yanchor="middle", text=txt, showarrow=False,
                       font=dict(family=FONT, size=19, color="black"))

fig.update_layout(
    width=1614, height=1093,
    margin=dict(l=68, r=59, t=5, b=52, autoexpand=False),
    plot_bgcolor="white", paper_bgcolor="white",
    showlegend=False)

# page body margin would push the figure 8px down/right
fig.write_html("out.html", config={"displayModeBar": False},
               post_script="document.body.style.margin='0px';")
